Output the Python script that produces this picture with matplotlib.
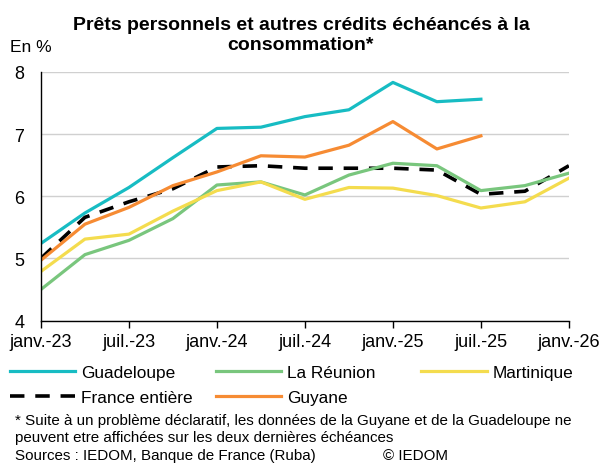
import matplotlib.pyplot as plt

plt.rcParams['font.family'] = ['Liberation Sans', 'DejaVu Sans']

# trimestres, janv.-23 -> janv.-26
quarters = list(range(13))
tick_pos = [0, 2, 4, 6, 8, 10, 12]
tick_labels = ["janv.-23", "juil.-23", "janv.-24", "juil.-24", "janv.-25", "juil.-25", "janv.-26"]

guadeloupe = [5.24, 5.73, 6.14, 6.62, 7.09, 7.11, 7.28, 7.39, 7.83, 7.52, 7.56]
reunion = [4.50, 5.06, 5.29, 5.64, 6.18, 6.23, 6.02, 6.34, 6.53, 6.49, 6.09, 6.17, 6.37]
martinique = [4.79, 5.31, 5.39, 5.76, 6.09, 6.23, 5.95, 6.14, 6.13, 6.01, 5.81, 5.91, 6.29]
france = [5.00, 5.66, 5.91, 6.12, 6.47, 6.49, 6.45, 6.45, 6.45, 6.42, 6.03, 6.08, 6.49]
guyane = [4.97, 5.55, 5.82, 6.17, 6.39, 6.65, 6.63, 6.82, 7.20, 6.76, 6.97]

fig = plt.figure(figsize=(6.02, 4.64), dpi=100)
ax = fig.add_axes([0.068, 0.307, 0.877, 0.536])

lw = 2.3
l_gp, = ax.plot(quarters[:len(guadeloupe)], guadeloupe, color="#17BCC3", lw=lw, label="Guadeloupe")
l_fr, = ax.plot(quarters, france, color="black", lw=lw + 0.3, dashes=(4, 3), label="France entière")
l_re, = ax.plot(quarters, reunion, color="#79C67D", lw=lw, label="La Réunion")
l_gy, = ax.plot(quarters[:len(guyane)], guyane, color="#F68B33", lw=lw, label="Guyane")
l_mq, = ax.plot(quarters, martinique, color="#F4DC4E", lw=lw, label="Martinique")

ax.set_xlim(0, 12)
ax.set_ylim(4, 8)
ax.set_yticks([4, 5, 6, 7, 8])
ax.set_xticks(tick_pos)
ax.set_xticklabels(tick_labels)
ax.tick_params(axis="y", length=0, labelsize=13, pad=12)
ax.tick_params(axis="x", length=5, width=1, labelsize=13, pad=4)
ax.grid(axis="y", color="#D0D0D0", lw=1)
ax.set_axisbelow(True)
for s in ["top", "right"]:
    ax.spines[s].set_visible(False)
for s in ["left", "bottom"]:
    ax.spines[s].set_color("black")
    ax.spines[s].set_linewidth(1)

fig.text(0.5, 0.924, "Prêts personnels et autres crédits échéancés à la\nconsommation*",
         ha="center", va="center", fontsize=14, fontweight="bold", linespacing=1.25)
fig.text(0.017, 0.898, "En %", fontsize=12.5, va="center")

# une légende par colonne, colonnes à largeur fixe comme dans excel
leg_kw = dict(loc="upper left", frameon=False, fontsize=12.4, handlelength=3.8,
              handletextpad=0.35, labelspacing=0.55, borderpad=0, borderaxespad=0)
cols = [([l_gp, l_fr], 0.016), ([l_re, l_gy], 0.358), ([l_mq], 0.700)]
for handles, x0 in cols:
    fig.legend(handles=handles, bbox_to_anchor=(x0, 0.211), **leg_kw)

fig.text(0.025, 0.093, "* Suite à un problème déclaratif, les données de la Guyane et de la Guadeloupe ne",
         fontsize=10.9, va="center")
fig.text(0.025, 0.056, "peuvent etre affichées sur les deux dernières échéances", fontsize=10.9, va="center")
fig.text(0.025, 0.018, "Sources : IEDOM, Banque de France (Ruba)", fontsize=10.9, va="center")
fig.text(0.636, 0.018, "© IEDOM", fontsize=10.9, va="center")

fig.savefig("out.png", dpi=100)
